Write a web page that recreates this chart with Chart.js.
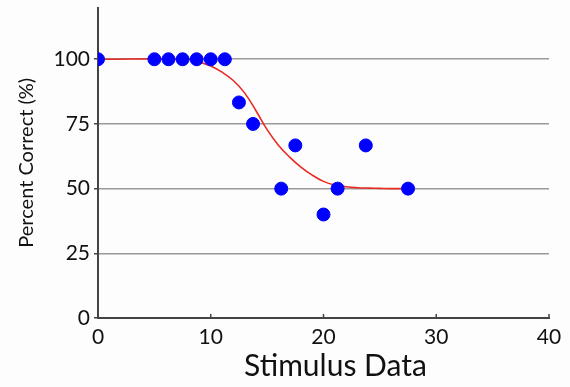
<!DOCTYPE html>
<html>
<head>
<meta charset="utf-8">
<script src="https://cdn.jsdelivr.net/npm/chart.js@4/dist/chart.umd.min.js"></script>
<style>
  html, body { margin: 0; padding: 0; background: #fdfdfd; }
  #wrap { width: 570px; height: 387px; position: relative; }
</style>
</head>
<body>
<div id="wrap"><canvas id="c"></canvas></div>
<script>
// Observed data points
const stimX = [0, 5, 6.25, 7.5, 8.75, 10, 11.25, 12.5, 13.75, 16.25, 17.5, 20, 21.25, 23.75, 27.5];
const pctCorrect = [100, 100, 100, 100, 100, 100, 100, 83.3, 75, 50, 66.7, 40, 50, 66.7, 50];

// Fitted curve
const fitX = [0, 8, 9, 10, 11, 12, 13, 14, 15, 16, 17, 18, 19, 20, 21, 22, 23, 24, 25, 26, 27.5];
const fitY = [100, 100, 98.9, 97.4, 95, 91.8, 87, 80.2, 72.8, 66.8, 62.2, 58.3, 55.2, 52.8, 51.4, 50.7, 50.35, 50.2, 50.1, 50, 50];

// Tick labels
const xTicks = [0, 10, 20, 30, 40];
const yTicks = [0, 25, 50, 75, 100];

const xTitle = 'Stimulus Data';
const yTitle = 'Percent Correct (%)';

const FONT = 'Lato, "Open Sans", sans-serif';

const extras = {
  id: 'extras',
  afterDraw(chart) {
    const ctx = chart.ctx;
    const xs = chart.scales.x;
    ctx.save();
    ctx.strokeStyle = '#444';
    ctx.lineWidth = 1.5;
    xTicks.forEach(v => {
      if (v === 0) return;
      const px = xs.getPixelForValue(v);
      ctx.beginPath();
      ctx.moveTo(px, xs.top);
      ctx.lineTo(px, xs.top - 4);
      ctx.stroke();
    });
    // x axis title
    ctx.fillStyle = '#111';
    ctx.font = '30px ' + FONT;
    ctx.textAlign = 'center';
    ctx.textBaseline = 'middle';
    ctx.fillText(xTitle, (xs.left + xs.right) / 2 + 12, xs.top + 48);
    ctx.restore();
  }
};

new Chart(document.getElementById('c'), {
  type: 'scatter',
  data: {
    datasets: [
      {
        type: 'scatter',
        data: stimX.map((x, i) => ({ x, y: pctCorrect[i] })),
        backgroundColor: '#0000ff',
        borderColor: '#0000ff',
        pointRadius: 6.5,
        pointHoverRadius: 6.5,
        order: 0
      },
      {
        type: 'line',
        data: fitX.map((x, i) => ({ x, y: fitY[i] })),
        borderColor: '#e82a22',
        borderWidth: 1.6,
        pointRadius: 0,
        fill: false,
        showLine: true,
        tension: 0.4,
        order: 1
      }
    ]
  },
  options: {
    responsive: true,
    maintainAspectRatio: false,
    animation: false,
    events: [],
    layout: { padding: { top: 3, right: 21, left: 0, bottom: 0 } },
    plugins: { legend: { display: false }, tooltip: { enabled: false } },
    scales: {
      x: {
        type: 'linear',
        min: 0, max: 40,
        afterBuildTicks(scale) { scale.ticks = xTicks.map(v => ({ value: v })); },
        afterFit(scale) { scale.height = 69; scale.paddingLeft = 0; scale.paddingRight = 0; },
        border: { color: '#444', width: 2 },
        grid: { drawOnChartArea: false, drawTicks: true, tickLength: 4, tickColor: 'rgba(0,0,0,0)' },
        ticks: { color: '#111', font: { family: FONT, size: 21 }, padding: 3, maxRotation: 0 },
        title: { display: false }
      },
      y: {
        type: 'linear',
        min: 0, max: 120,
        afterBuildTicks(scale) { scale.ticks = yTicks.map(v => ({ value: v })); },
        afterFit(scale) { scale.width = 98; scale.paddingTop = 0; scale.paddingBottom = 0; },
        border: { color: '#444', width: 2 },
        grid: {
          color: ctx => (ctx.tick && ctx.tick.value === 0) ? 'rgba(0,0,0,0)' : '#9a9a9a',
          lineWidth: 1.5,
          drawTicks: true,
          tickLength: 4,
          tickColor: '#444'
        },
        ticks: { color: '#111', font: { family: FONT, size: 21 }, padding: 4 },
        title: { display: true, text: yTitle, color: '#111', font: { family: FONT, size: 20 }, padding: { top: 15, bottom: 0 } }
      }
    }
  },
  plugins: [extras]
});
</script>
</body>
</html>
